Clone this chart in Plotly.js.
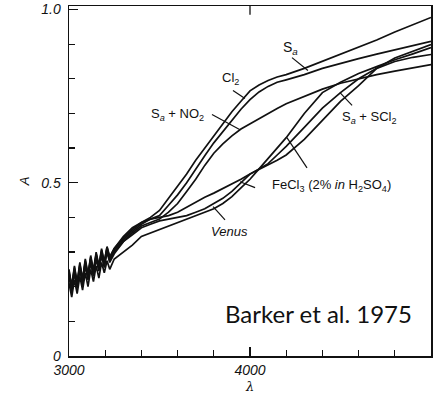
<!DOCTYPE html>
<html>
<head>
<meta charset="utf-8">
<script src="https://cdn.plot.ly/plotly-3.0.1.min.js"></script>
<style>html,body{margin:0;padding:0;background:#fff;}#chart{width:437px;height:398px;}</style>
</head>
<body>
<div id="chart"></div>
<script>
// Wavelength grid (Å)
const wavelength = [3000,3015,3030,3045,3060,3075,3090,3105,3120,3135,3150,3165,3180,3195,3210,3225,3250,
  3300,3350,3400,3450,3500,3550,3600,3650,3700,3750,3800,3850,3900,3950,4000,4050,4100,4150,4200,
  4300,4400,4500,4600,4700,4800,4900,5000];

const cl2 = [0.25,0.20,0.26,0.21,0.27,0.22,0.28,0.235,0.29,0.245,0.30,0.26,0.31,0.27,0.315,0.285,0.31,
  0.34,0.365,0.385,0.40,0.42,0.455,0.49,0.525,0.565,0.60,0.635,0.67,0.705,0.735,0.765,0.782,0.795,0.805,0.812,
  0.83,0.85,0.87,0.89,0.912,0.935,0.956,0.977];
const sa = [0.24,0.195,0.25,0.205,0.26,0.215,0.27,0.23,0.28,0.24,0.29,0.255,0.30,0.265,0.31,0.28,0.305,
  0.335,0.36,0.38,0.395,0.405,0.435,0.465,0.50,0.54,0.578,0.615,0.648,0.68,0.712,0.74,0.762,0.778,0.79,0.797,
  0.812,0.83,0.845,0.858,0.871,0.884,0.896,0.908];
const saNO2 = [0.235,0.19,0.245,0.20,0.255,0.21,0.265,0.225,0.275,0.235,0.285,0.25,0.295,0.26,0.305,0.275,0.30,
  0.33,0.355,0.375,0.385,0.395,0.415,0.44,0.475,0.51,0.55,0.585,0.612,0.635,0.655,0.67,0.686,0.70,0.714,0.728,
  0.75,0.77,0.787,0.80,0.812,0.822,0.832,0.841];
const saSCl2 = [0.23,0.185,0.24,0.195,0.25,0.205,0.26,0.22,0.27,0.23,0.28,0.245,0.29,0.255,0.30,0.27,0.295,
  0.33,0.35,0.37,0.38,0.39,0.395,0.40,0.405,0.415,0.425,0.44,0.455,0.475,0.50,0.525,0.54,0.555,0.58,0.605,
  0.66,0.715,0.76,0.80,0.83,0.85,0.862,0.87];
const fecl3 = [0.245,0.20,0.255,0.21,0.265,0.22,0.275,0.235,0.285,0.245,0.295,0.26,0.305,0.27,0.315,0.285,0.31,
  0.345,0.37,0.385,0.395,0.40,0.405,0.415,0.43,0.445,0.458,0.47,0.483,0.495,0.51,0.525,0.538,0.55,0.565,0.58,
  0.625,0.68,0.735,0.78,0.83,0.86,0.88,0.899];
const venus = [0.21,0.17,0.22,0.18,0.23,0.19,0.24,0.20,0.25,0.215,0.26,0.225,0.27,0.24,0.275,0.25,0.28,
  0.30,0.32,0.345,0.355,0.365,0.375,0.385,0.395,0.405,0.415,0.425,0.44,0.46,0.485,0.51,0.54,0.57,0.60,0.63,
  0.70,0.76,0.79,0.815,0.835,0.855,0.872,0.89];

const seriesNames = ["Cl2","Sa","Sa+NO2","Sa+SCl2","FeCl3","Venus"];
const seriesValues = [cl2, sa, saNO2, saSCl2, fecl3, venus];

const xTickVals = [3000, 4000];
const xTickText = ["3000", "4000"];
const yTickVals = [0, 0.5, 1.0];
const yTickText = ["0", "0.5", "1.0"];

const labelFont = {family: "Liberation Sans", size: 13, color: "#111"};

const traces = seriesValues.map((v, i) => ({
  x: wavelength, y: v, name: seriesNames[i], type: "scatter", mode: "lines",
  line: {color: "#111", width: 1.7, shape: "linear"}, hoverinfo: "skip"
}));

function lbl(x, y, text, extra) {
  return Object.assign({x: x, y: y, xref: "x", yref: "y", text: text, showarrow: false,
    font: labelFont, xanchor: "center", yanchor: "middle"}, extra || {});
}
function lead(x0, y0, x1, y1) {
  return {type: "line", xref: "x", yref: "y", x0: x0, y0: y0, x1: x1, y1: y1,
    line: {color: "#111", width: 1.2}};
}

const layout = {
  width: 437, height: 398,
  margin: {l: 69, r: 6, t: 6, b: 42},
  paper_bgcolor: "#fff", plot_bgcolor: "#fff",
  showlegend: false,
  xaxis: {
    range: [3000, 5000], showgrid: false, zeroline: false,
    showline: true, linecolor: "#111", linewidth: 1.5, mirror: true,
    tickmode: "array", tickvals: xTickVals, ticktext: xTickText,
    ticks: "inside", ticklen: 9, tickwidth: 1.3, tickcolor: "#111",
    minor: {dtick: 200, tick0: 3000, ticks: "inside", ticklen: 6, tickwidth: 1.2, tickcolor: "#111", showgrid: false},
    tickfont: {family: "Liberation Sans", size: 14, style: "italic", color: "#111"},
    ticklabelstandoff: 1,
    title: {text: "λ", font: {family: "DejaVu Serif", size: 13, style: "italic", color: "#111"}, standoff: 4}
  },
  yaxis: {
    range: [0, 1.01], showgrid: false, zeroline: false,
    showline: true, linecolor: "#111", linewidth: 1.5, mirror: true,
    tickmode: "array", tickvals: yTickVals, ticktext: yTickText,
    ticks: "inside", ticklen: 9, tickwidth: 1.3, tickcolor: "#111",
    minor: {dtick: 0.1, tick0: 0, ticks: "inside", ticklen: 6, tickwidth: 1.2, tickcolor: "#111", showgrid: false},
    tickfont: {family: "Liberation Sans", size: 14, style: "italic", color: "#111"},
    ticklabelstandoff: 4,
    title: {text: "A", font: {family: "Liberation Sans", size: 13, style: "italic", color: "#111"}, standoff: 8}
  },
  annotations: [
    lbl(4221, 0.89, "S<sub><i>a</i></sub>", {font: Object.assign({}, labelFont, {size: 14})}),
    lbl(3893, 0.800, "Cl<sub>2</sub>"),
    lbl(3597, 0.697, "S<sub><i>a</i></sub> + NO<sub>2</sub>"),
    lbl(4660, 0.688, "S<sub><i>a</i></sub> + SCl<sub>2</sub>"),
    lbl(4450, 0.491, "FeCl<sub>3</sub> (2% <i>in</i> H<sub>2</sub>SO<sub>4</sub>)"),
    lbl(3884, 0.358, "<i>Venus</i>"),
    lbl(4381, 0.124, "Barker et al. 1975", {font: {family: "Lato", size: 24, color: "#111"}})
  ],
  shapes: [
    lead(4232, 0.861, 4320, 0.824),
    lead(3906, 0.766, 3972, 0.743),
    lead(3790, 0.697, 3945, 0.653),
    lead(4564, 0.723, 4497, 0.760),
    lead(4028, 0.486, 3945, 0.503),
    lead(4315, 0.543, 4204, 0.630),
    lead(3862, 0.393, 3796, 0.431),
    {type: "line", xref: "x", yref: "paper", x0: 4000, x1: 4000, y0: 1, y1: 0.975, line: {color: "#111", width: 1.3}}
  ]
};

Plotly.newPlot("chart", traces, layout, {staticPlot: true, displayModeBar: false});
</script>
</body>
</html>
